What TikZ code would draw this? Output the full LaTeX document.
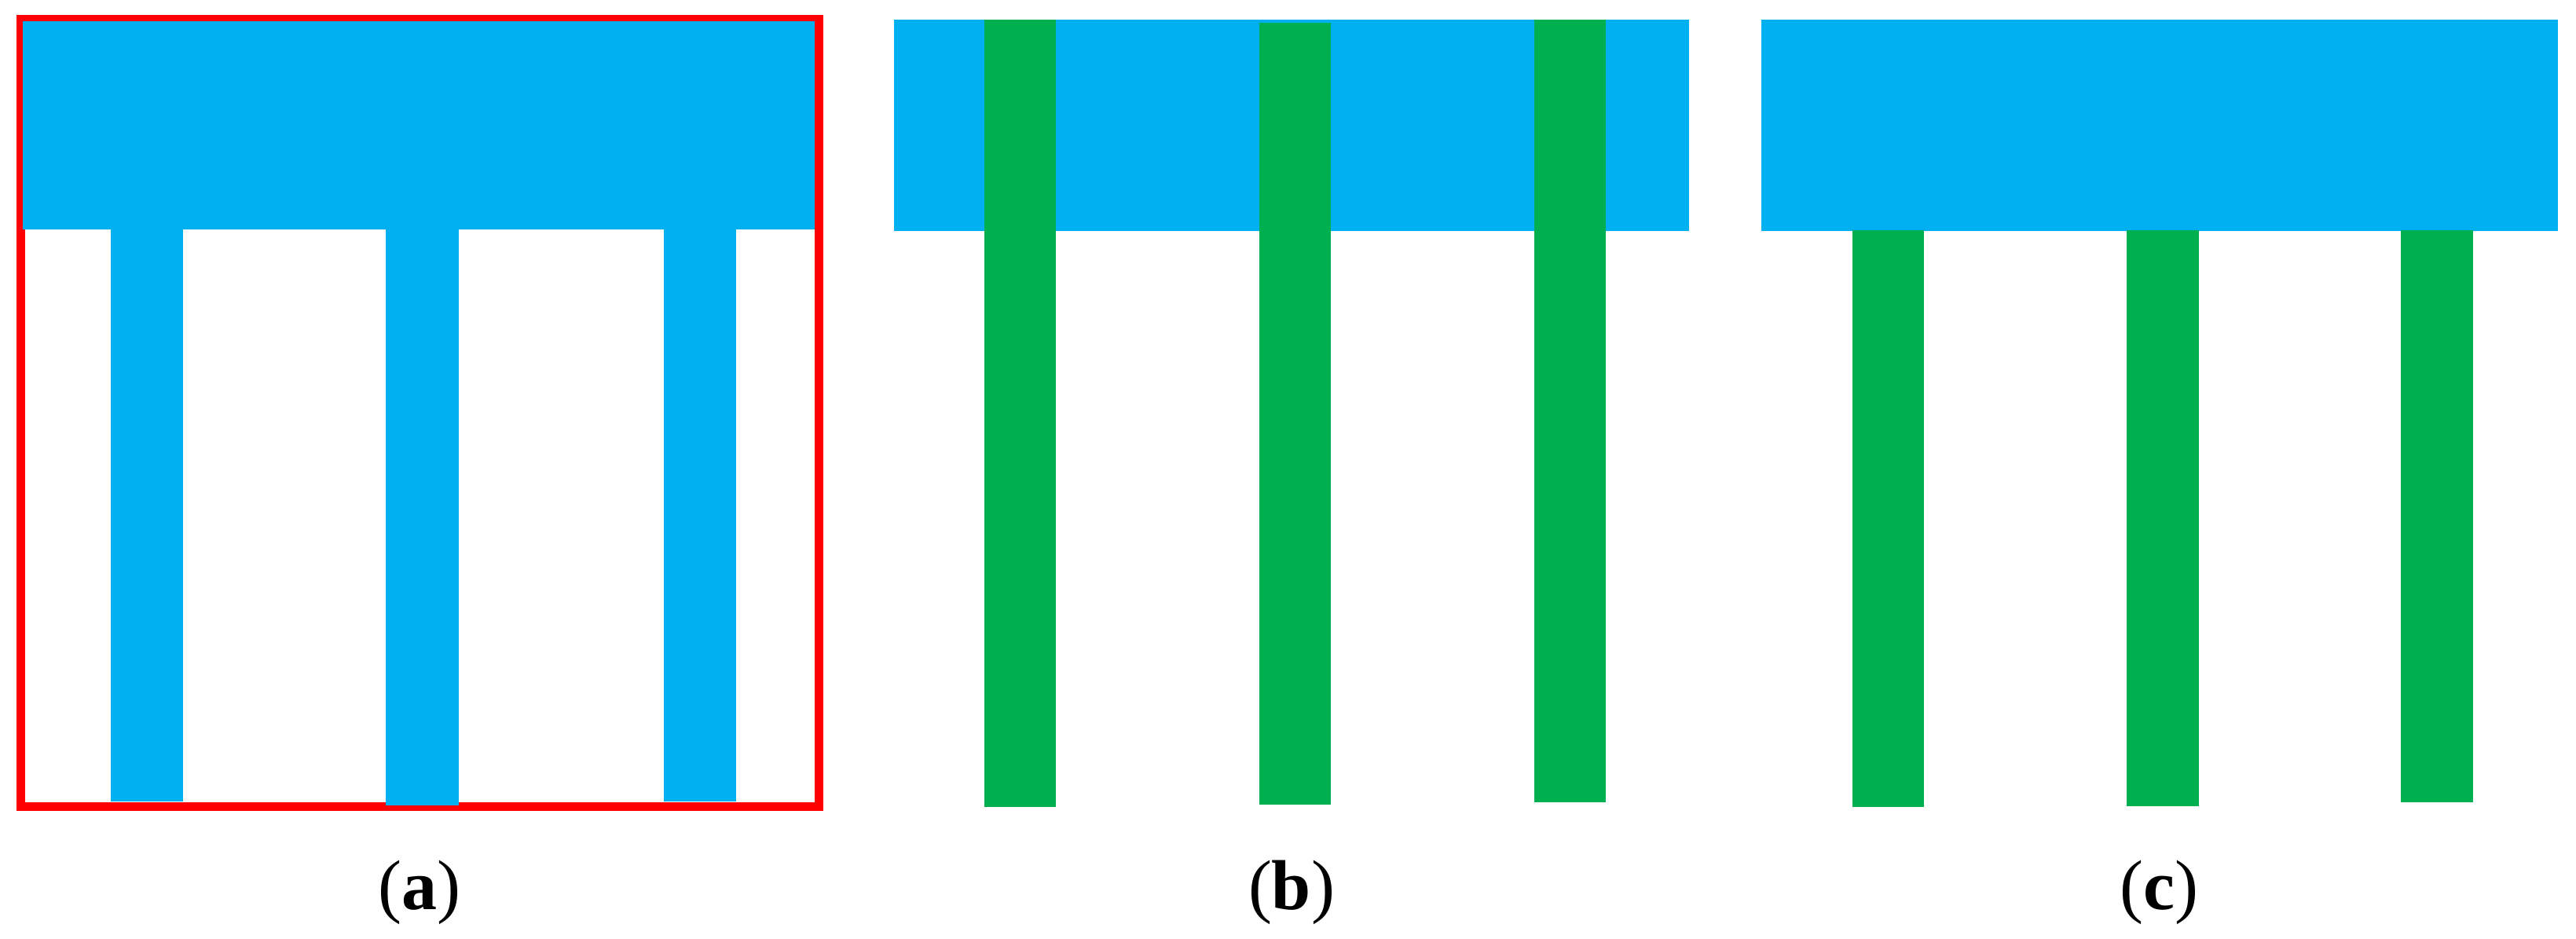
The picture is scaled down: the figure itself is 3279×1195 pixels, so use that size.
\documentclass[tikz,border=0pt]{standalone}
\usepackage{fontspec}
\setmainfont{Liberation Serif}
\definecolor{skyblue}{HTML}{00B0F0}
\definecolor{barGreen}{HTML}{00B050}
\definecolor{frameRed}{HTML}{FF0000}
\begin{document}
\begin{tikzpicture}[x=0.01cm,y=-0.01cm,
  bluefill/.style={fill=skyblue,draw=none},
  greenfill/.style={fill=barGreen,draw=none},
  redframe/.style={draw=frameRed,line width=0.11cm},
  caption/.style={font=\fontsize{25.6}{30}\selectfont,anchor=base,inner sep=0pt}]
\useasboundingbox[fill=white] (0,0) rectangle (3279,1195);
% ---------- panel (a) ----------
\draw[redframe] (26.5,24.5) rectangle (1042.5,1026.5);
\fill[bluefill] (29,27) rectangle (1037,292);
\fill[bluefill] (141.3,291) rectangle (233,1020);
\fill[bluefill] (491,291) rectangle (584.4,1024.7);
\fill[bluefill] (845.3,291) rectangle (936.5,1020);
\node[caption] (capa) at (534,1157) {(\textbf{a})};
% ---------- panel (b) ----------
\fill[bluefill] (1137.5,25) rectangle (2150,294);
\fill[greenfill] (1253.3,25) rectangle (1344,1026.7);
\fill[greenfill] (1603,29.3) rectangle (1694,1024.3);
\fill[greenfill] (1953,25) rectangle (2044,1020.7);
\node[caption] (capb) at (1644,1157) {(\textbf{b})};
% ---------- panel (c) ----------
\fill[bluefill] (2241.7,25) rectangle (3256,294.5);
\fill[greenfill] (2357.5,293) rectangle (2449,1026.7);
\fill[greenfill] (2707,293) rectangle (2799,1025.7);
\fill[greenfill] (3056,293) rectangle (3148,1021.3);
\node[caption] (capc) at (2748,1157) {(\textbf{c})};
\end{tikzpicture}
\end{document}
